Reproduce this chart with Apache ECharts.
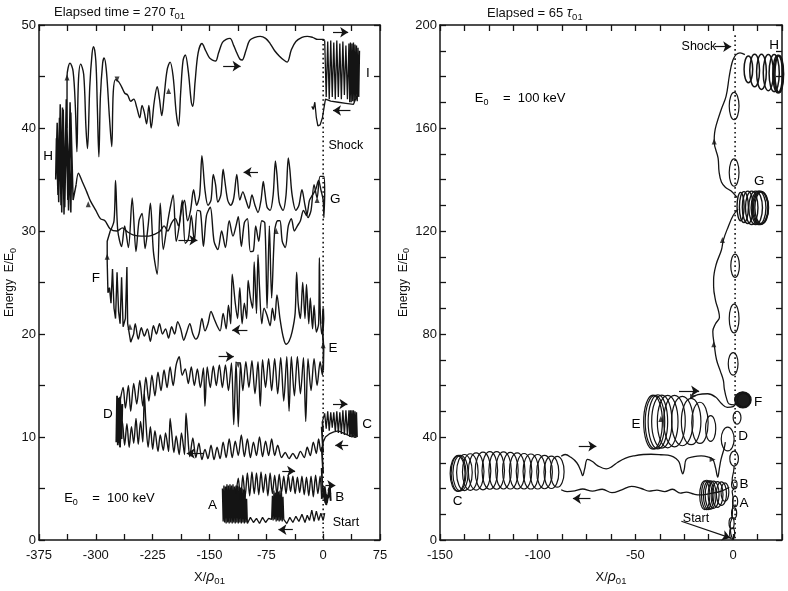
<!DOCTYPE html>
<html><head><meta charset="utf-8">
<script src="https://cdn.jsdelivr.net/npm/echarts@6/dist/echarts.min.js"></script>
<style>html,body{margin:0;padding:0;background:#fff}#c{width:788px;height:591px}</style>
</head><body><div id="c"></div>
<script>
// ---------------- LEFT PANEL (X/rho01, E/E0) ----------------
const leftXTicks = [-375, 75, 37.5, 75];   // min, max, tick step, label step
const leftYTicks = [0, 50, 5, 10];
const rightXTicks = [-150, 25, 12.5, 50];
const rightYTicks = [0, 200, 10, 40];

const leftALow = [[2,2.6],[0,1.9],[-3,2.6],[-6,1.9],[-9,2.8],[-12,1.8],[-15,2.9],[-18,1.9],[-21,2.4],[-24,1.7],[-28,2.5],[-32,1.8],[-36,2.3],[-40,1.7],[-44,2.2],[-48,1.6],[-52,2.0],
[-53,4.2],[-54,1.8],[-55,4.6],[-56,1.9],[-57,4.8],[-58,1.8],[-59,4.7],[-60,1.9],[-61,4.9],[-62,1.8],[-63,4.6],[-64,2.0],[-65,4.8],[-66,1.9],[-67,4.3],[-68,2.0],
[-72,2.1],[-76,1.7],[-80,2.2],[-84,1.6],[-88,2.1],[-92,1.7],[-96,2.2],[-100,1.6],
[-101,4.0],[-102,1.7],[-103,4.6],[-104,1.6],[-105,4.9],[-106,1.7],[-107,5.0],[-108,1.6],[-109,5.1],[-110,1.7],[-111,5.2],[-112,1.6],[-113,5.3],[-114,1.7],[-115,5.3],[-116,1.6],[-117,5.2],[-118,1.7],[-119,5.4],[-120,1.6],[-121,5.3],[-122,1.7],[-123,5.4],[-124,1.6],[-125,5.3],[-126,1.7],[-127,5.4],[-128,1.6],[-129,5.2],[-130,1.7],[-131,5.3],[-132,1.8],[-133,5.0],[-131,2.0],[-128,5.2],[-125,1.8],[-122,5.1],[-119,1.9],[-116,5.0],[-115,4.5]];
const leftAHigh = [[-115,4.5],[-112,6.0],[-109,3.8],[-106,6.3],[-103,4.2],[-100,6.5],[-97,4.3],[-94,6.6],[-91,4.5],[-88,6.5],[-85,4.4],[-82,6.6],[-79,4.6],[-76,6.4],[-73,4.3],[-70,6.5],[-67,4.5],[-64,6.3],[-61,4.4],[-58,6.4],[-55,4.6],[-52,6.2],[-49,4.5],[-46,6.3],[-43,4.7],[-40,6.2],[-37,4.5],[-34,6.1],[-31,4.6],[-28,6.2],[-25,4.4],[-22,6.1],[-19,4.3],[-16,6.2],[-13,4.2],[-10,6.3],[-7,4.5],[-4,6.2],[-2,4.0]];
const leftB = [[-2,4.0],[2,5.2],[5,3.6],[8,5.0],[10,3.8],[9,5.1],[4,3.4],[1,4.8],[6,4.1],[10,4.6],[3,3.6],[0,4.5],[-1,5.0],[-2,7],[0,6.5],[-2,9],[0,8.5],[-2,11],[0,10.5],[-1,11.5]];
const leftC = [[-1,11.5],[2,12.3],[4,10.8],[6,12.5],[8,10.6],[10,12.4],[12,10.9],[14,12.4],[16,10.5],[18,12.5],[20,10.4],[22,12.4],[24,10.3],[26,12.6],[28,10.2],[30,12.6],[32,10.2],[34,12.6],[35,10.0],[36,12.6],[37,10.0],[38,12.6],[39,10.0],[40,12.6],[41,9.9],[42,12.5],[43,9.9],[44,12.4],[45,10.0],[44,10.3],[38,10.0],[32,10.2],[26,10.4],[20,10.6],[14,10.5],[8,10.3],[3,10.0],[0,9.5]];
const leftDLow = [[0,9.5],[-3,8.6],[-6,9.8],[-9,8.4],[-13,9.5],[-17,8.2],[-21,9.0],[-25,8.0],[-30,8.6],[-35,7.9],[-40,8.4],[-45,7.9],[-50,8.5],[-55,8.0],[-60,9.2],[-64,8.2],[-68,9.8],[-72,8.2],[-76,9.6],[-80,8.1],[-84,10.0],[-88,8.2],[-92,9.5],[-96,8.0],[-100,9.8],[-104,8.1],[-108,10.2],[-112,8.2],[-116,9.6],[-120,8.0],[-124,9.8],[-128,8.0],[-132,9.5],[-136,7.9],[-140,9.0],[-144,7.8],[-148,9.2],[-152,7.9],[-156,8.8],[-160,7.8],[-164,9.4],[-168,8.0],[-172,9.9],[-176,8.1],[-179,10.5],[-181,12.3],[-183,8.3],[-187,10.4],[-190,8.3],[-194,10.1],[-197,8.5],[-200,10.5],[-202,11.8],[-204,8.6],[-208,10.4],[-211,8.7],[-215,10.2],[-218,8.6],[-222,10.6],[-225,8.8],[-228,11.0],[-231,9.0],[-234,11.5],[-236,14.2],[-238,9.5],[-241,11.5],[-244,9.3],[-247,11.8],[-250,9.4],[-253,11.0],[-256,9.0],[-259,11.3],[-262,9.2],[-265,11.5],[-268,9.0]];
const leftDBlock = [[-268,9.0],[-270,13.8],[-271,9.2],[-272,14.0],[-273,9.5],[-272,13.5],[-270,9.4],[-268,13.9],[-266,9.8],[-265,13.2],[-268,10],[-269,13.5],[-268,13.5]];
const leftDTop = [[-268,13.5],[-264,14.8],[-261,12.8],[-257,15.0],[-254,12.5],[-250,15.2],[-246,13.2],[-242,15.5],[-238,13.0],[-234,15.8],[-230,13.5],[-226,16.0],[-222,14.0],[-218,16.3],[-214,14.5],[-210,16.5],[-206,14.8],[-202,16.8],[-198,15.0],[-194,17.0],[-190,17.8],[-186,16.0],[-182,16.6],[-178,15.2],[-174,16.8],[-170,15.0],[-166,16.6],[-162,14.8],[-158,16.7],[-156,13.0],[-153,16.8],[-149,14.8],[-145,16.9],[-141,15.0],[-137,17.0],[-133,14.8],[-129,17.0],[-125,14.5],[-121,17.2],[-118,11.2],[-115,17.3],[-112,11.0],[-109,17.2],[-106,14.5],[-102,17.3],[-98,14.8],[-94,17.4],[-90,14.2],[-86,17.3],[-83,13.0],[-80,17.5],[-76,14.8],[-72,17.6],[-68,14.5],[-64,17.6],[-60,14.2],[-56,17.7],[-52,13.5],[-48,17.8],[-45,12.5],[-42,17.8],[-38,14.0],[-34,17.8],[-30,14.2],[-26,17.7],[-23,11.5],[-20,17.6],[-16,14.5],[-12,17.6],[-8,15.0],[-4,17.3],[-1,16.0],[0,17.0]];
const leftE = [[0,16.5],[0.5,18.5],[-0.5,20],[0.5,21.5],[0,22.5],[-1,21],[0,21.5]];
const leftFLow = [[0,21.5],[-2,20.0],[-4,22.5],[-5,27.4],[-6,21.0],[-9,20.2],[-12,22.8],[-14,20.5],[-17,23.5],[-19,21.0],[-22,24.8],[-24,21.5],[-27,25.0],[-30,21.5],[-33,23.0],[-35,26.0],[-37,22.0],[-41,20.2],[-45,19.3],[-49,19.0],[-53,19.8],[-57,21.5],[-61,23.8],[-64,21.3],[-67,22.5],[-70,20.8],[-74,21.8],[-78,22.5],[-81,21.0],[-84,24.5],[-86,27.7],[-88,22.0],[-91,27.0],[-93,22.5],[-96,23.5],[-99,25.2],[-101,21.5],[-104,23.0],[-107,21.0],[-110,24.5],[-113,21.5],[-116,23.0],[-120,25.8],[-122,21.0],[-125,22.8],[-128,20.5],[-132,22.0],[-136,20.3],[-140,20.8],[-144,21.5],[-148,22.2],[-152,21.0],[-156,20.3],[-160,21.5],[-164,20.0],[-168,19.5],[-172,20.0],[-176,21.0],[-180,20.2],[-184,19.4],[-188,20.5],[-192,21.2],[-196,20.0],[-200,20.7],[-204,19.6],[-208,20.5],[-212,20.0],[-216,21.0],[-220,20.0],[-224,20.8],[-228,19.3],[-232,20.5],[-236,19.8],[-240,20.6],[-244,19.5],[-248,21.0],[-250,20.0]];
const leftFLeft = [[-250,20.0],[-254,19.2],[-258,21.0],[-259,26.5],[-261,21.5],[-264,20.7],[-266,25.5],[-268,21.0],[-270,22.2],[-272,26.0],[-274,21.5],[-276,22.5],[-278,26.3],[-280,23.0],[-282,24.5],[-284,24.0],[-285,27.0],[-285,29.0],[-281,30.0]];
const leftG1 = [[-281,30.0],[-276,31.0],[-274,34.9],[-271,30.0],[-266,28.5],[-262,30.5],[-257,28.4],[-252,33.2],[-247,28.0],[-243,31.0],[-239,31.7],[-235,28.3],[-231,30.5],[-228,32.7],[-224,28.0],[-219,25.8],[-215,32.7],[-211,28.2],[-207,30.0],[-203,31.8],[-198,33.5],[-194,29.0],[-190,30.5],[-186,33.0],[-182,28.8],[-178,29.2],[-174,31.5],[-170,29.0],[-166,32.0],[-162,31.9],[-158,28.5],[-154,31.5],[-149,32.3],[-144,29.0],[-139,28.2],[-134,30.0],[-129,28.4],[-124,31.0],[-119,29.5],[-115,30.5],[-112,31.4],[-108,28.5],[-104,30.8],[-100,31.2],[-96,28.0],[-92,28.1],[-89,30.5],[-85,29.0],[-81,31.0],[-77,30.8],[-74,22.5],[-71,30.5],[-68,23.5],[-64,30.0],[-60,31.0],[-57,31.0],[-54,29.0],[-50,28.4],[-46,30.5],[-42,31.2],[-38,30.0],[-34,30.5],[-30,31.0],[-26,32.0],[-22,31.5],[-18,33.0],[-14,33.5],[-10,34.0],[-6,34.9],[-3,34.0],[0,33.0],[1,31.3],[2,33.5]];
const leftG2 = [[2,33.5],[1,35.3],[-4,35.3],[-8,33.2],[-12,34.5],[-16,32.0],[-20,31.3],[-24,32.5],[-28,34.0],[-32,32.5],[-36,32.0],[-41,33.5],[-44,36.0],[-46,37.1],[-49,33.5],[-53,32.0],[-58,32.8],[-61,35.5],[-63,36.8],[-66,33.5],[-70,32.0],[-74,32.3],[-77,33.8],[-79,34.8],[-82,33.0],[-86,31.8],[-90,32.5],[-94,33.5],[-98,32.2],[-102,33.0],[-106,33.8],[-110,33.0],[-114,35.5],[-118,33.2],[-122,32.5],[-126,33.0],[-130,35.0],[-132,36.0],[-135,33.5],[-139,32.8],[-142,34.5],[-145,35.5],[-148,33.0],[-152,32.5],[-156,34.0],[-160,37.3],[-163,33.5],[-167,32.5],[-171,34.0],[-175,32.0],[-179,31.0],[-183,33.0],[-187,32.0],[-191,30.5],[-195,31.2],[-200,30.8],[-205,30.0],[-210,30.5],[-215,30.0],[-222,29.7],[-230,29.5],[-240,29.5],[-250,29.6],[-258,29.9],[-265,30.3],[-272,30.0],[-281,30.2],[-288,31.0],[-294,31.2],[-300,32.0],[-307,32.9],[-312,33.8],[-318,34.8],[-323,35.6],[-326,34.5]];
const leftH = [[-326,34.5],[-330,33.0],[-333,41.5],[-336,32.0],[-339,42.8],[-342,31.6],[-344,42.0],[-346,32.5],[-348,41.0],[-350,33.5],[-352,39.0],[-353,35.0],[-351,40.5],[-349,32.8],[-347,42.3],[-345,31.8],[-343,41.8],[-341,32.3],[-339,40.0],[-337,33.0],[-335,38.5],[-333,31.8],[-332,36],[-334,42.5],[-336,34],[-338,40]];
const leftTop = [[-338,40],[-338,45],[-334,46.3],[-330,45.5],[-327,42],[-325,37.7],[-323,44.5],[-320,46.2],[-316,45.2],[-313,40],[-311,38.0],[-308,44],[-305,47.2],[-303,47.9],[-300,46.5],[-298,42],[-296,37.2],[-294,43],[-291,46.3],[-289,46.8],[-286,45.5],[-282,41],[-279,38.2],[-277,43.5],[-274,44.7],[-270,44.5],[-266,44.0],[-262,43.4],[-258,43.2],[-254,42.6],[-250,42.8],[-246,42.0],[-242,41.0],[-239,42.2],[-236,41.5],[-233,40.4],[-230,42.2],[-227,40.0],[-223,42.5],[-219,44.0],[-216,42.8],[-213,41.2],[-210,43.0],[-206,45.6],[-202,46.4],[-198,45.0],[-194,41.5],[-191,40.2],[-188,43.5],[-185,46.5],[-182,47.1],[-178,45.5],[-174,42.5],[-172,42.1],[-169,44.5],[-165,47.3],[-160,48.2],[-155,47.5],[-150,46.8],[-146,46.6],[-142,46.5],[-138,47.3],[-133,48.3],[-128,48.6],[-123,48.7],[-118,48.0],[-114,47.3],[-110,46.7],[-107,46.6],[-102,47.5],[-97,48.5],[-90,48.8],[-83,48.9],[-76,48.7],[-70,48.2],[-64,47.5],[-58,47.0],[-52,46.6],[-47.5,46.4],[-42,47.6],[-36,48.4],[-28,48.8],[-21,48.9],[-14,48.8],[-7,48.6],[0,48.6],[2,48.5]];
const leftI = [[2,48.5],[4,43],[6,48.4],[8,42.8],[10,48.5],[12,43],[14,48.3],[16,42.8],[18,48.5],[20,43],[22,48.2],[24,42.8],[26,48.4],[28,43.2],[30,48.0],[32,42.8],[34,48.2],[35,42.5],[36,48.3],[37,42.5],[38,48.2],[39,42.6],[40,48.3],[41,42.5],[42,48.1],[43,42.7],[44,48.0],[45,42.6],[46,47.8],[47,43],[48,47.5],[47,43.5],[44,43.0],[40,42.3],[30,42.4],[20,42.5],[10,42.6],[3,42.8],[-1,41.0],[-4,40.3],[-7,40.2],[-9,41.0],[-11,42.5],[-13,41.8],[-15,42.1]];
const leftShock = [[0,48.6],[0,0]];
const leftArrows = [[-132,46,-109,46],[13,49.3,33,49.3],[36,41.7,13,41.7],[-86,35.7,-105,35.7],[-191,29.1,-166,29.1],[-100,20.4,-120,20.4],[-138,17.8,-118,17.8],[-158,8.4,-180,8.4],[13,13.2,32,13.2],[33,9.2,16,9.2],[-54,6.7,-37,6.7],[-40,1.0,-59,1.0],[3,5.3,16,5.3]];
const leftHeads = [[-338,44.9,0],[-272,44.7,180],[-204,43.6,0],[-285,27.5,0],[0,18.9,0],[-310,32.6,0],[-255,20.7,0],[-62,30.0,0],[-8,33.0,0],[-112,17.0,180]];
const leftTags = [['A',-146,3.4],['B',22,4.1],['C',58,11.2],['D',-284,12.2],['E',13,18.6],['F',-300,25.4],['G',16,33.1],['H',-363,37.3],['I',59,45.3],['Start',30,1.7],['Shock',30,38.3]];
const leftE0 = [-282, 4.0];

// ---------------- RIGHT PANEL ----------------
// ellipses: [centerX, centerE, radiusX, radiusE]
const rightStartLoops = [[-0.5,2.5,1.3,2.2],[-0.8,6.5,1.3,2.2],[0.5,10.5,1.3,2.0],[1,15,1.3,2.0],[0.6,21.6,1.4,1.7]];
const rightStartPath = [[0,0],[-1.2,2.5],[-1.5,6],[-0.5,9],[-0.3,12.5],[0,16],[-0.5,19],[0.5,20],[-0.5,23.5],[0.2,26.5],[0.5,28.7]];
const rightRingsA = [[-14.5,17.4,2.6,5.6],[-13.5,17.5,2.7,5.7],[-12.5,17.4,2.7,5.6],[-11.5,17.5,2.8,5.5],[-10,17.6,2.8,5.3],[-8,17.7,2.8,5.0],[-6,18.0,2.6,4.6],[-4.2,18.6,2.0,3.6]];
const rightLower = [[-2,20.5],[-6,19],[-12,18],[-17,17.5],[-20,17.8],[-24,18.6],[-27,18.2],[-31,19.7],[-35,18.8],[-39,19.4],[-43,19.0],[-47,20.0],[-52,20.8],[-57,19.5],[-62,18.4],[-67,19.7],[-72,19.0],[-77,19.8],[-81,19.1],[-85,18.8],[-88,19.5]];
const rightRingsC = [[-141,25.8,3.8,6.9],[-140.5,25.9,3.8,7],[-139.5,26.0,3.9,6.9],[-137.5,26.2,4,7],[-134.5,26.4,4,7.1],[-131.5,26.6,4,7.2],[-128,26.8,4,7.3],[-124.5,27.0,4,7.3],[-121,27.0,4,7.3],[-117.5,27.0,4,7.2],[-114,26.9,4,7.1],[-110.5,26.8,4,7.0],[-107,26.7,4,6.9],[-103.5,26.6,4,6.8],[-100,26.5,4,6.7],[-96.5,26.4,4,6.5],[-93,26.3,3.8,6.3],[-90,26.5,3.5,6.0]];
const rightUpper = [[-88,32.5],[-86,33.2],[-83,32.1],[-80,30],[-78,27],[-77,25.0],[-76,27.5],[-74.5,31.3],[-72,30.5],[-69.4,28.9],[-65,27.6],[-62,28.5],[-59,30.2],[-55,31.8],[-50.6,32.7],[-46,33.2],[-42,33.3],[-37,33.1],[-31.8,32.7],[-29,31.5],[-27.6,30.2],[-26.5,27],[-25.8,25.7],[-25,27.5],[-24,31.3],[-20,32.4],[-16.4,32.7],[-13,32.3],[-10.4,31.3],[-9,28],[-7.9,24.4],[-7,28],[-6.2,31.3],[-4.5,35.9],[-4,38]];
const rightMidLoops = [[0.5,31.6,2.2,2.9],[-2.8,39.2,3.3,4.6],[2,47.5,2,2.5]];
const rightRingsE = [[-41,45.8,4.8,10.5],[-40,45.8,5,10.4],[-38.5,45.9,5,10.5],[-36.5,46,5.2,10.3],[-33.5,46,5.3,10.2],[-30,46.2,5.5,10],[-26,46.2,5.5,9.6],[-21.5,46,5,9],[-17,45.5,4.2,8],[-11.5,43.3,2.6,5]];
const rightEtoF = [[-22,55],[-18,56.5],[-13,56.8],[-9,55.5],[-6,53],[-3,51.5],[0,51.8],[1.5,53]];
const rightFCluster = [[5,54.4,4.2,3.1],[4.6,54.5,3.6,2.8],[5.4,54.3,3.2,2.6]];
const rightClimb1 = [[0.5,52.5],[-2,52.8],[-3.2,54.5],[-4.5,58.6],[-5,62],[-6.5,65.5],[-8.5,70],[-9.7,76],[-10.4,81],[-9,84],[-7,86.5],[-7.5,89],[-9,93],[-10,98.5],[-10,101],[-8.7,107],[-6,112.6],[-5,116.5],[-2.6,121.5],[0,126],[2.5,128.5]];
const rightClimbLoops = [[0,68.4,2.5,4.4],[0.5,86,2.5,5.6],[1,106.5,2.2,4.5],[0.5,142.7,2.5,5.3],[0.5,168.5,2.5,5.3]];
const rightRingsG = [[3.8,129.5,1.8,5.5],[5.5,129.3,2.3,6],[7.5,129.2,2.8,6.3],[9.5,129,3.2,6.5],[11.5,129,3.5,6.5],[13,129,3.8,6.5],[13.8,129,4,6.5],[14.2,129,3.8,6.3],[14.6,129,3.5,6.2]];
const rightClimb2 = [[2,133],[-1,135.5],[-4,137],[-6,139],[-7.2,143],[-7.7,148.3],[-9.7,154.8],[-9.5,158],[-8.7,161],[-6,167.4],[-3.6,172.4],[-2,180],[-1,184],[0,186.6],[1.5,188.5],[3.5,189.2],[6,188.5]];
const rightRingsH = [[7.8,182.8,2.2,5.2],[11,182.3,2.5,6.3],[14.5,181.8,2.5,6.8],[18,181.5,2.6,7],[21,181.3,2.6,7.2],[22.8,181,2.5,7.3],[23.3,181,2.4,7.3],[23.6,181,2.2,7.2]];
const rightShock = [[1,196],[1,0]];
const rightArrows = [[-27.7,57.9,-17.4,57.9],[-79,36.4,-70,36.4],[-73,16.1,-82,16.1],[-26.5,7.3,-1.5,0.8],[-9.5,191.6,-1,191.6]];
const rightHeads = [[-9.7,154.8,0],[-5.5,116.5,0],[-9.9,76,0],[-20.5,55.8,-90],[-37,47,0],[-10.5,31.3,-90]];
const rightTags = [['A',5.6,14.2],['B',5.6,21.8],['C',-141,15],['D',5.1,40.2],['E',-49.7,44.8],['F',12.8,53.6],['G',13.3,139.5],['H',21,192.3],['Start',-19,8.4],['Shock',-17.5,191.6]];
const rightE0 = [-109, 171.3];

// ---------------- rendering ----------------
const INK = '#141414';
const FONT = '"Liberation Sans", Arial, Helvetica, sans-serif';

function poly(data, xi, yi, smooth, w) {
  return {type:'line', xAxisIndex:xi, yAxisIndex:yi, data:data, symbol:'none', showSymbol:false,
    smooth: smooth || false, lineStyle:{color:INK, width:w || 1.4}, silent:true, z:3};
}
function rings(data, xi, yi, w, fill) {
  return {type:'custom', xAxisIndex:xi, yAxisIndex:yi, data:data, silent:true, z:3,
    renderItem:function(p, api){
      const c = api.coord([api.value(0), api.value(1)]);
      const s = api.size([api.value(2), api.value(3)]);
      const rx = s[0], ry = s[1], x = c[0], y = c[1];
      const d = 'M' + (x-rx) + ',' + y + 'A' + rx + ',' + ry + ',0,1,0,' + (x+rx) + ',' + y +
                'A' + rx + ',' + ry + ',0,1,0,' + (x-rx) + ',' + y + 'Z';
      return {type:'path', shape:{pathData:d}, style:{fill: fill || 'none', stroke:INK, lineWidth: w || 1.2}};
    }};
}
function shock(data, xi, yi, arrows) {
  return {type:'line', xAxisIndex:xi, yAxisIndex:yi, data:data, symbol:'none', silent:true, z:2,
    itemStyle:{color:INK},
    lineStyle:{color:INK, width:1.6, type:[1.6,3]},
    markLine:{silent:true, symbol:['none','arrow'], symbolSize:8, precision:4,
      itemStyle:{color:INK},
      lineStyle:{color:INK, width:1.2, type:'solid'}, label:{show:false}, emphasis:{disabled:true},
      data: arrows.map(a => [{coord:[a[0],a[1]]},{coord:[a[2],a[3]]}])}};
}
function heads(data, xi, yi) {
  return {type:'scatter', xAxisIndex:xi, yAxisIndex:yi, silent:true, z:4,
    data: data.map(h => ({value:[h[0],h[1]], symbolRotate:h[2]})),
    symbol:'triangle', symbolSize:[5,6], itemStyle:{color:INK}};
}
const richE0 = {a:{fontSize:13, fontFamily:FONT, color:'#000'}, s:{fontSize:9, fontFamily:FONT, color:'#000', padding:[7,0,0,0]}};
function tags(data, e0, xi, yi) {
  const items = data.map(t => ({value:[t[1],t[2]], name:t[0],
    label:{fontSize: t[0].length > 1 ? 12.5 : 13.5}}));
  items.push({value:e0, name:'E0', label:{formatter:'{a|E}{s|0}{a|    =  100 keV}', rich:richE0}});
  return {type:'scatter', xAxisIndex:xi, yAxisIndex:yi, silent:true, z:5, symbolSize:1,
    itemStyle:{color:'#ffffff', opacity:1}, data:items,
    label:{show:true, position:'inside', formatter:'{b}', color:'#000', opacity:1,
      textBorderWidth:0, fontFamily:FONT}};
}
function xAx(grid, t, pos, show, name) {
  const a = {gridIndex:grid, type:'value', min:t[0], max:t[1], interval:t[2], position:pos,
    axisLine:{show:true, onZero:false, lineStyle:{color:INK, width:1.5}},
    axisTick:{show:true, inside:true, length:6, lineStyle:{color:INK, width:1.3}},
    splitLine:{show:false},
    axisLabel:{show:show, margin:9, color:'#111', fontSize:13, fontFamily:FONT,
      formatter: v => (Math.abs(v % t[3]) < 1e-6 ? String(v) : '')}};
  if (name) {
    a.name = '{a|X/}{r|ρ}{s|01}'; a.nameLocation = 'middle'; a.nameGap = 28;
    a.nameTextStyle = {color:'#111', rich:{a:{fontSize:13, fontFamily:FONT}, r:{fontSize:14, fontFamily:FONT, fontStyle:'italic'}, s:{fontSize:9.5, fontFamily:FONT, padding:[8,0,0,0]}}};
  }
  return a;
}
function yAx(grid, t, pos, show, name) {
  const a = {gridIndex:grid, type:'value', min:t[0], max:t[1], interval:t[2], position:pos,
    axisLine:{show:true, onZero:false, lineStyle:{color:INK, width:1.5}},
    axisTick:{show:true, inside:true, length:6, lineStyle:{color:INK, width:1.3}},
    splitLine:{show:false},
    axisLabel:{show:show, margin:3, color:'#111', fontSize:13, fontFamily:FONT,
      formatter: v => (Math.abs(v % t[3]) < 1e-6 ? String(v) : '')}};
  if (name) {
    a.name = '{a|Energy  E/E}{s|0}'; a.nameLocation = 'middle'; a.nameGap = 19;
    a.nameTextStyle = {color:'#111', rich:{a:{fontSize:12, fontFamily:FONT}, s:{fontSize:9, fontFamily:FONT, padding:[7,0,0,0]}}};
  }
  return a;
}
const titleRich = {a:{fontSize:13, fontFamily:FONT, fontWeight:'normal', color:'#111'},
  t:{fontSize:14, fontFamily:FONT, fontStyle:'italic', fontWeight:'normal', color:'#111'},
  s:{fontSize:9.5, fontFamily:FONT, fontWeight:'normal', color:'#111', padding:[7,0,0,0]}};

const chart = echarts.init(document.getElementById('c'), null, {renderer:'canvas'});
chart.setOption({
  animation:false,
  backgroundColor:'#ffffff',
  title:[
    {text:'{a|Elapsed time = 270 }{t|τ}{s|01}', left:49, top:-1, textStyle:{fontWeight:'normal', rich:titleRich}},
    {text:'{a|Elapsed = 65 }{t|τ}{s|01}', left:482, top:0, textStyle:{fontWeight:'normal', rich:titleRich}}
  ],
  grid:[
    {left:39, top:25, width:341, height:521},
    {left:440, top:25, width:342, height:522}
  ],
  xAxis:[
    xAx(0, leftXTicks, 'bottom', true, true),
    xAx(0, leftXTicks, 'top', false, false),
    xAx(1, rightXTicks, 'bottom', true, true),
    xAx(1, rightXTicks, 'top', false, false)
  ],
  yAxis:[
    yAx(0, leftYTicks, 'left', true, true),
    yAx(0, leftYTicks, 'right', false, false),
    yAx(1, rightYTicks, 'left', true, true),
    yAx(1, rightYTicks, 'right', false, false)
  ],
  series:[
    shock(leftShock, 0, 0, leftArrows),
    poly(leftALow, 0, 0, false, 1.3),
    poly(leftAHigh, 0, 0, 0.3),
    poly(leftB, 0, 0, false, 1.8),
    poly(leftC, 0, 0, false, 1.3),
    poly(leftDLow, 0, 0, 0.3),
    poly(leftDBlock, 0, 0, false, 1.8),
    poly(leftDTop, 0, 0, 0.3),
    poly(leftE, 0, 0, false, 1.8),
    poly(leftFLow, 0, 0, 0.3),
    poly(leftFLeft, 0, 0, false),
    poly(leftG1, 0, 0, 0.3),
    poly(leftG2, 0, 0, 0.3),
    poly(leftH, 0, 0, false, 1.5),
    poly(leftTop, 0, 0, 0.35),
    poly(leftI, 0, 0, false, 1.3),
    heads(leftHeads, 0, 0),
    tags(leftTags, leftE0, 0, 0),

    shock(rightShock, 2, 2, rightArrows),
    poly(rightStartPath, 2, 2, 0.4, 1.2),
    rings(rightStartLoops, 2, 2),
    rings(rightRingsA, 2, 2, 1.2),
    poly(rightLower, 2, 2, 0.4, 1.3),
    rings(rightRingsC, 2, 2, 1.2),
    poly(rightUpper, 2, 2, 0.4, 1.3),
    rings(rightMidLoops, 2, 2),
    rings(rightRingsE, 2, 2, 1.2),
    poly(rightEtoF, 2, 2, 0.4, 1.3),
    rings(rightFCluster, 2, 2, 1.2, '#1c1c1c'),
    poly(rightClimb1, 2, 2, 0.4, 1.3),
    rings(rightClimbLoops, 2, 2),
    rings(rightRingsG, 2, 2, 1.4),
    poly(rightClimb2, 2, 2, 0.4, 1.3),
    rings(rightRingsH, 2, 2, 1.5),
    heads(rightHeads, 2, 2),
    tags(rightTags, rightE0, 2, 2)
  ]
});
</script>
</body></html>
